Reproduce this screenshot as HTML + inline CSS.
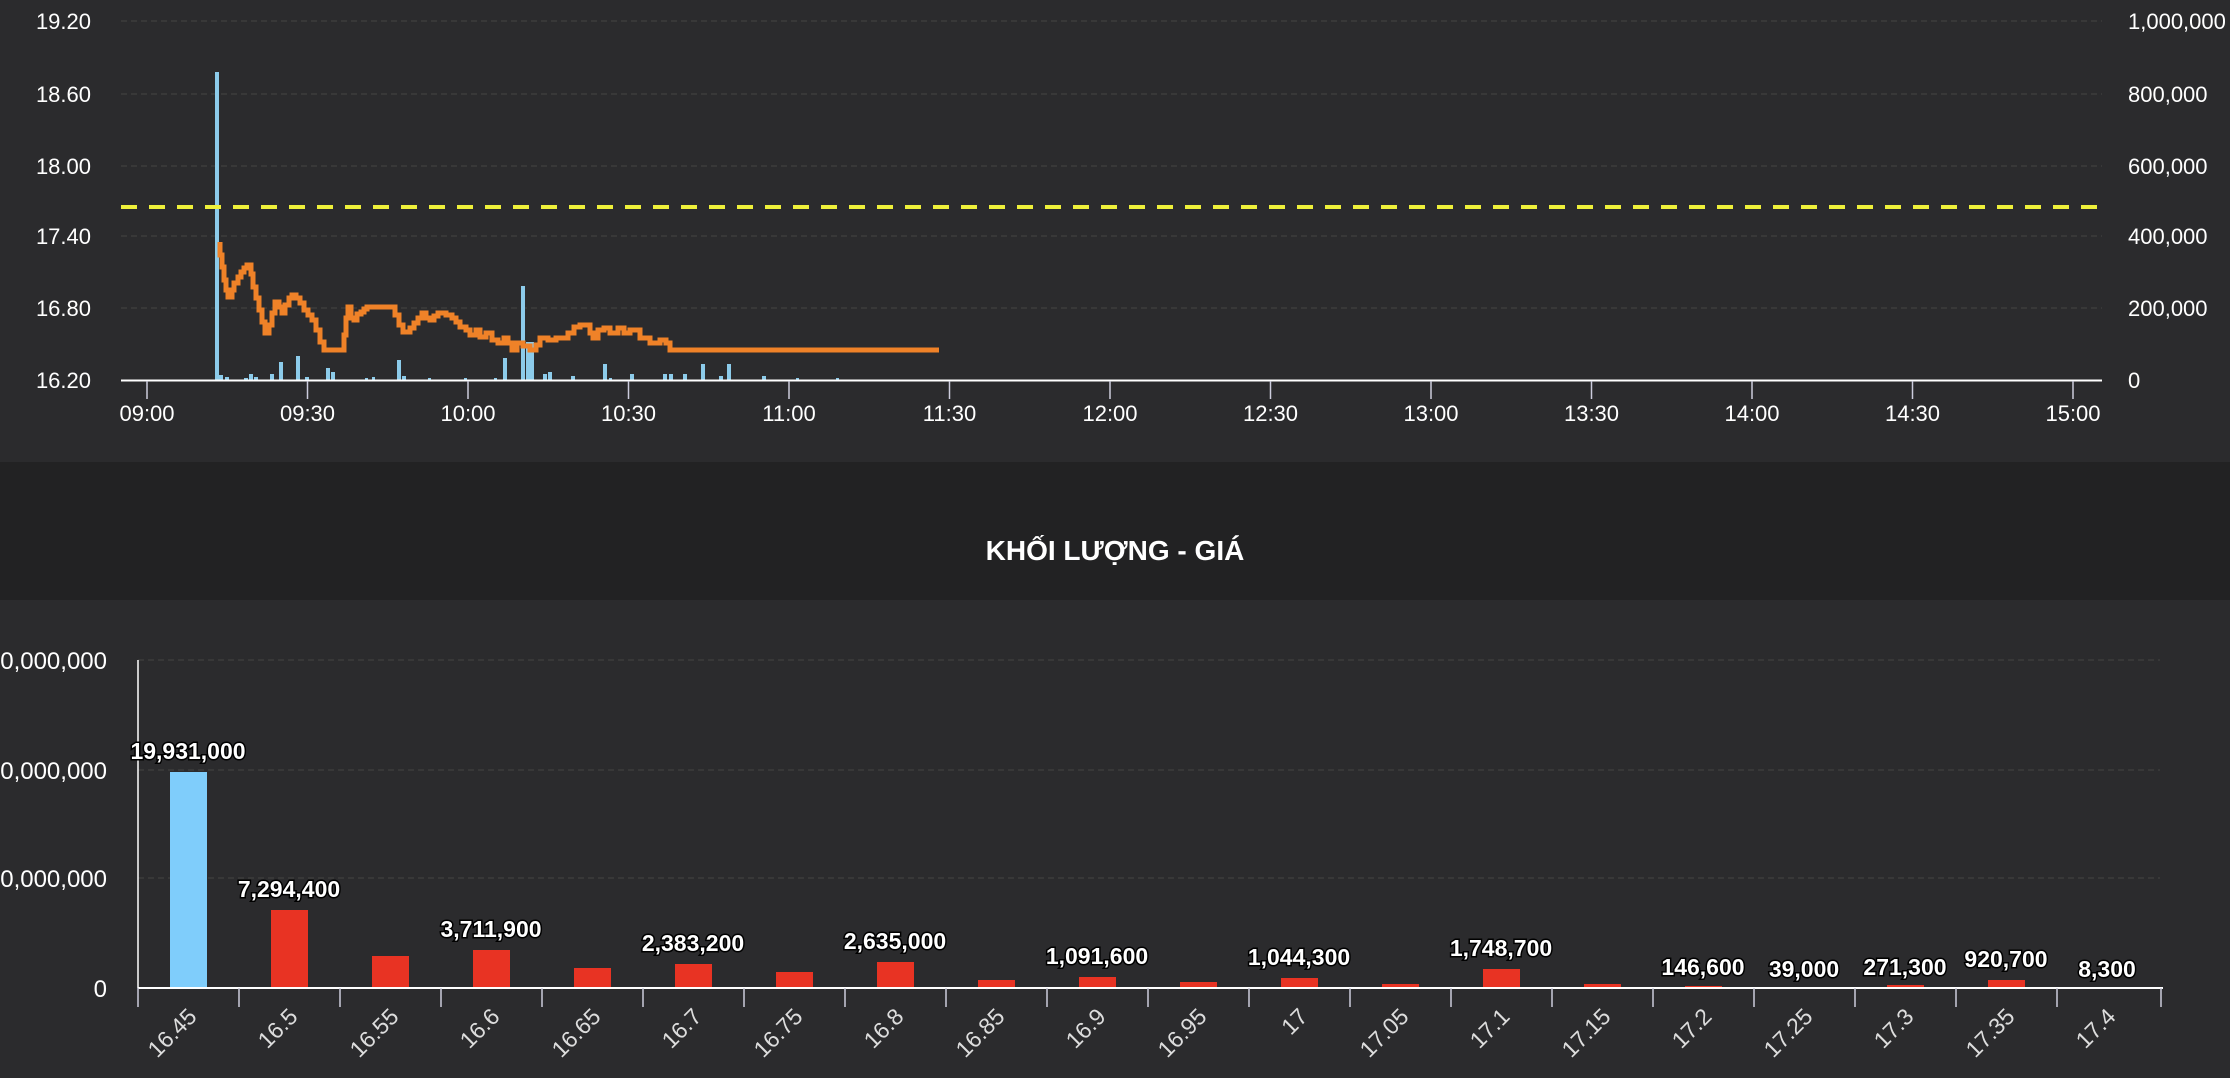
<!DOCTYPE html>
<html><head><meta charset="utf-8"><style>
html,body{margin:0;padding:0;background:#2b2b2d;width:2230px;height:1078px;overflow:hidden}
svg{display:block;font-family:"Liberation Sans",sans-serif}
</style></head><body>
<svg width="2230" height="1078" xmlns="http://www.w3.org/2000/svg">
<rect width="2230" height="1078" fill="#2b2b2d"/>
<g stroke="#444" stroke-dasharray="6,4" stroke-width="1">
<line x1="121" y1="21" x2="2102" y2="21"/><line x1="121" y1="94" x2="2102" y2="94"/><line x1="121" y1="166" x2="2102" y2="166"/><line x1="121" y1="236" x2="2102" y2="236"/><line x1="121" y1="308" x2="2102" y2="308"/>
</g>
<g fill="#fff" font-size="22" text-anchor="end">
<text x="91" y="29">19.20</text><text x="91" y="102">18.60</text><text x="91" y="174">18.00</text><text x="91" y="244">17.40</text><text x="91" y="316">16.80</text><text x="91" y="388">16.20</text>
</g>
<g fill="#fff" font-size="22" text-anchor="start">
<text x="2128" y="29">1,000,000</text><text x="2128" y="102">800,000</text><text x="2128" y="174">600,000</text><text x="2128" y="244">400,000</text><text x="2128" y="316">200,000</text><text x="2128" y="388">0</text>
</g>
<g fill="#8ccbea">
<rect x="215" y="72" width="4" height="308"/>
<rect x="219" y="375" width="4" height="5"/><rect x="225" y="377" width="4" height="3"/><rect x="244" y="378" width="4" height="2"/><rect x="249" y="374" width="4" height="6"/><rect x="254" y="377" width="4" height="3"/><rect x="270" y="374" width="4" height="6"/><rect x="279" y="362" width="4" height="18"/><rect x="296" y="356" width="4" height="24"/><rect x="305" y="377" width="4" height="3"/><rect x="326" y="368" width="4" height="12"/><rect x="331" y="372" width="4" height="8"/><rect x="365" y="378" width="3" height="2"/><rect x="372" y="377" width="3" height="3"/><rect x="397" y="360" width="4" height="20"/><rect x="402" y="376" width="4" height="4"/><rect x="428" y="378" width="3" height="2"/><rect x="464" y="378" width="3" height="2"/><rect x="494" y="378" width="3" height="2"/><rect x="503" y="358" width="4" height="22"/><rect x="521" y="286" width="4" height="94"/><rect x="526" y="342" width="4" height="38"/><rect x="530" y="342" width="4" height="38"/><rect x="543" y="374" width="4" height="6"/><rect x="548" y="372" width="4" height="8"/><rect x="571" y="376" width="4" height="4"/><rect x="603" y="364" width="4" height="16"/><rect x="609" y="378" width="3" height="2"/><rect x="630" y="374" width="4" height="6"/><rect x="663" y="374" width="4" height="6"/><rect x="669" y="374" width="4" height="6"/><rect x="683" y="374" width="4" height="6"/><rect x="701" y="364" width="4" height="16"/><rect x="719" y="376" width="4" height="4"/><rect x="727" y="364" width="4" height="16"/><rect x="762" y="376" width="4" height="4"/><rect x="796" y="378" width="3" height="2"/><rect x="836" y="378" width="3" height="2"/>
</g>
<line x1="121" y1="380.5" x2="2102" y2="380.5" stroke="#fff" stroke-width="2"/>
<g stroke="#ccd" stroke-width="1.5">
<line x1="147" y1="381" x2="147" y2="399"/><line x1="307.5" y1="381" x2="307.5" y2="399"/><line x1="468" y1="381" x2="468" y2="399"/><line x1="628.5" y1="381" x2="628.5" y2="399"/><line x1="789" y1="381" x2="789" y2="399"/><line x1="949.5" y1="381" x2="949.5" y2="399"/><line x1="1110" y1="381" x2="1110" y2="399"/><line x1="1270.5" y1="381" x2="1270.5" y2="399"/><line x1="1431" y1="381" x2="1431" y2="399"/><line x1="1591.5" y1="381" x2="1591.5" y2="399"/><line x1="1752" y1="381" x2="1752" y2="399"/><line x1="1912.5" y1="381" x2="1912.5" y2="399"/><line x1="2073" y1="381" x2="2073" y2="399"/>
</g>
<g fill="#fff" font-size="22" text-anchor="middle">
<text x="147" y="421">09:00</text><text x="307.5" y="421">09:30</text><text x="468" y="421">10:00</text><text x="628.5" y="421">10:30</text><text x="789" y="421">11:00</text><text x="949.5" y="421">11:30</text><text x="1110" y="421">12:00</text><text x="1270.5" y="421">12:30</text><text x="1431" y="421">13:00</text><text x="1591.5" y="421">13:30</text><text x="1752" y="421">14:00</text><text x="1912.5" y="421">14:30</text><text x="2073" y="421">15:00</text>
</g>
<line x1="121" y1="207" x2="2102" y2="207" stroke="#eef03a" stroke-width="4" stroke-dasharray="16,12"/>
<polyline fill="none" stroke="#ef8228" stroke-width="5" stroke-linejoin="miter" points="220,242 220,255 222,255 222,267 224,267 224,280 226,280 226,290 228,290 228,297 232,297 232,290 234,290 234,283 238,283 238,277 241,277 241,272 244,272 244,268 247,268 247,265 251,265 251,274 253,274 253,287 256,287 256,298 259,298 259,310 262,310 262,322 265,322 265,333 269,333 269,325 272,325 272,313 275,313 275,302 279,302 279,307 282,307 282,313 285,313 285,305 289,305 289,298 292,298 292,295 296,295 296,298 300,298 300,303 304,303 304,310 308,310 308,315 312,315 312,320 316,320 316,330 320,330 320,342 324,342 324,350 344,350 344,335 346,335 346,318 348,318 348,307 351,307 351,318 354,318 354,320 357,320 357,314 361,314 361,312 364,312 364,309 367,309 367,307 395,307 395,315 399,315 399,325 403,325 403,332 410,332 410,328 414,328 414,323 418,323 418,318 422,318 422,313 426,313 426,318 430,318 430,320 434,320 434,316 438,316 438,313 446,313 446,315 452,315 452,318 456,318 456,322 460,322 460,327 466,327 466,330 470,330 470,335 476,335 476,330 480,330 480,337 486,337 486,333 492,333 492,340 498,340 498,343 504,343 504,338 508,338 508,343 512,343 512,350 517,350 517,343 523,343 523,346 530,346 530,350 536,350 536,345 540,345 540,338 548,338 548,340 556,340 556,338 568,338 568,333 574,333 574,327 580,327 580,325 590,325 590,333 593,333 593,338 598,338 598,330 604,330 604,328 610,328 610,333 618,333 618,328 624,328 624,333 630,333 630,330 640,330 640,338 650,338 650,343 660,343 660,340 666,340 666,343 670,343 670,350 939,350"/>
<rect x="0" y="462" width="2230" height="138" fill="#222223"/>
<text x="1115" y="560" fill="#fff" font-size="28" font-weight="bold" text-anchor="middle">KHỐI LƯỢNG - GIÁ</text>
<g stroke="#444" stroke-dasharray="6,4" stroke-width="1">
<line x1="138" y1="660" x2="2160" y2="660"/><line x1="138" y1="770" x2="2160" y2="770"/><line x1="138" y1="878" x2="2160" y2="878"/>
</g>
<g fill="#fff" font-size="24" text-anchor="end">
<text x="107" y="669">30,000,000</text><text x="107" y="779">20,000,000</text><text x="107" y="887">10,000,000</text><text x="107" y="997">0</text>
</g>
<line x1="138" y1="660" x2="138" y2="988" stroke="#fff" stroke-width="1.5"/>
<g fill="#e83323">
<rect x="170" y="772" width="37" height="216" fill="#7fcdfb"/>
<rect x="271" y="910" width="37" height="78"/>
<rect x="372" y="956" width="37" height="32"/>
<rect x="473" y="950" width="37" height="38"/>
<rect x="574" y="968" width="37" height="20"/>
<rect x="675" y="964" width="37" height="24"/>
<rect x="776" y="972" width="37" height="16"/>
<rect x="877" y="962" width="37" height="26"/>
<rect x="978" y="980" width="37" height="8"/>
<rect x="1079" y="977" width="37" height="11"/>
<rect x="1180" y="982" width="37" height="6"/>
<rect x="1281" y="978" width="37" height="10"/>
<rect x="1382" y="984" width="37" height="4"/>
<rect x="1483" y="969" width="37" height="19"/>
<rect x="1584" y="984" width="37" height="4"/>
<rect x="1685" y="986" width="37" height="2"/>
<rect x="1786" y="987" width="37" height="1"/>
<rect x="1887" y="985" width="37" height="3"/>
<rect x="1988" y="980" width="37" height="8"/>
</g>
<line x1="138" y1="988" x2="2163" y2="988" stroke="#fff" stroke-width="2"/>
<g stroke="#ccd" stroke-width="1.5">
<line x1="138" y1="988" x2="138" y2="1007"/><line x1="239" y1="988" x2="239" y2="1007"/><line x1="340" y1="988" x2="340" y2="1007"/><line x1="441" y1="988" x2="441" y2="1007"/><line x1="542" y1="988" x2="542" y2="1007"/><line x1="643" y1="988" x2="643" y2="1007"/><line x1="744" y1="988" x2="744" y2="1007"/><line x1="845" y1="988" x2="845" y2="1007"/><line x1="946" y1="988" x2="946" y2="1007"/><line x1="1047" y1="988" x2="1047" y2="1007"/><line x1="1148" y1="988" x2="1148" y2="1007"/><line x1="1249" y1="988" x2="1249" y2="1007"/><line x1="1350" y1="988" x2="1350" y2="1007"/><line x1="1451" y1="988" x2="1451" y2="1007"/><line x1="1552" y1="988" x2="1552" y2="1007"/><line x1="1653" y1="988" x2="1653" y2="1007"/><line x1="1754" y1="988" x2="1754" y2="1007"/><line x1="1855" y1="988" x2="1855" y2="1007"/><line x1="1956" y1="988" x2="1956" y2="1007"/><line x1="2057" y1="988" x2="2057" y2="1007"/><line x1="2161" y1="988" x2="2161" y2="1007"/>
</g>
<g fill="#ddd" font-size="23" text-anchor="end">
<text transform="translate(198,1018) rotate(-45)">16.45</text>
<text transform="translate(299,1018) rotate(-45)">16.5</text>
<text transform="translate(400,1018) rotate(-45)">16.55</text>
<text transform="translate(501,1018) rotate(-45)">16.6</text>
<text transform="translate(602,1018) rotate(-45)">16.65</text>
<text transform="translate(703,1018) rotate(-45)">16.7</text>
<text transform="translate(804,1018) rotate(-45)">16.75</text>
<text transform="translate(905,1018) rotate(-45)">16.8</text>
<text transform="translate(1006,1018) rotate(-45)">16.85</text>
<text transform="translate(1107,1018) rotate(-45)">16.9</text>
<text transform="translate(1208,1018) rotate(-45)">16.95</text>
<text transform="translate(1309,1018) rotate(-45)">17</text>
<text transform="translate(1410,1018) rotate(-45)">17.05</text>
<text transform="translate(1511,1018) rotate(-45)">17.1</text>
<text transform="translate(1612,1018) rotate(-45)">17.15</text>
<text transform="translate(1713,1018) rotate(-45)">17.2</text>
<text transform="translate(1814,1018) rotate(-45)">17.25</text>
<text transform="translate(1915,1018) rotate(-45)">17.3</text>
<text transform="translate(2016,1018) rotate(-45)">17.35</text>
<text transform="translate(2117,1018) rotate(-45)">17.4</text>
</g>
<g fill="#fff" font-size="23" font-weight="bold" text-anchor="middle" stroke="#000" stroke-width="3" paint-order="stroke">
<text x="188" y="759">19,931,000</text>
<text x="289" y="897">7,294,400</text>
<text x="491" y="937">3,711,900</text>
<text x="693" y="951">2,383,200</text>
<text x="895" y="949">2,635,000</text>
<text x="1097" y="964">1,091,600</text>
<text x="1299" y="965">1,044,300</text>
<text x="1501" y="956">1,748,700</text>
<text x="1703" y="975">146,600</text>
<text x="1804" y="977">39,000</text>
<text x="1905" y="975">271,300</text>
<text x="2006" y="967">920,700</text>
<text x="2107" y="977">8,300</text>
</g>
</svg>
</body></html>
